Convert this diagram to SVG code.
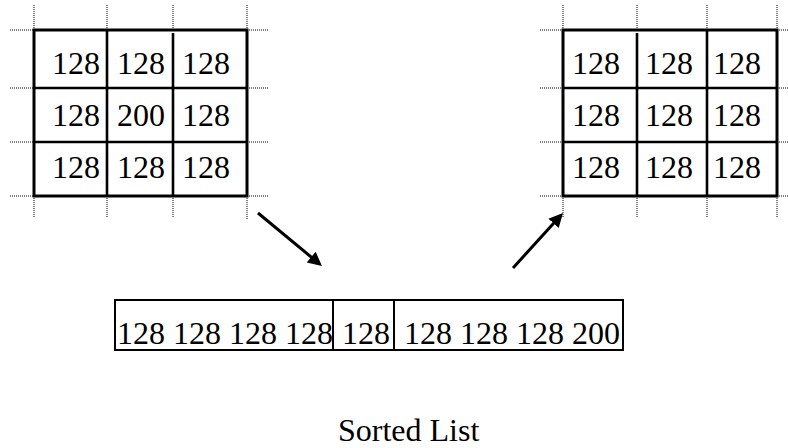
<svg xmlns="http://www.w3.org/2000/svg" width="788" height="448" viewBox="0 0 788 448">
  <style>
    .grid { fill: none; stroke: #000; stroke-width: 3; }
    .cell { stroke: #000; stroke-width: 2.6; }
    .guide { stroke: #000; stroke-width: 1; stroke-dasharray: 1 1; fill: none; }
    .strip { fill: none; stroke: #000; stroke-width: 2; }
    .arrow { stroke: #000; stroke-width: 3; fill: none; marker-end: url(#head); }
  </style>
  <defs>
    <marker id="head" viewBox="0 0 10 10" refX="4" refY="5" markerWidth="14" markerHeight="19" markerUnits="userSpaceOnUse" orient="auto">
      <path d="M0,0 L10,5 L0,10 z" fill="#000"/>
    </marker>
  </defs>

  <rect width="788" height="448" fill="#fff"/>

  <!-- 3x3 neighbourhood before sorting -->
  <g id="grid-input">
    <path class="guide" d="M34,5 V30 M107,5 V30 M173,5 V30 M247,5 V30 M34,196 V218 M107,196 V218 M173,196 V218 M247,196 V220 M10,30 H34 M10,88 H34 M10,142 H34 M10,196 H34 M247,30 H269 M247,88 H269 M247,142 H269 M247,196 H269"/>
    <path class="cell" d="M107,30 V196 M173,33 V196 M34,88 H247 M34,142 H247"/>
    <rect class="grid" x="34" y="30" width="213" height="166"/>
    <g font-family="Liberation Serif, Times New Roman, serif" font-size="32" fill="#000">
      <text x="52" y="74">128</text>
      <text x="117" y="74">128</text>
      <text x="182" y="74">128</text>
      <text x="52" y="126">128</text>
      <text x="117" y="126">200</text>
      <text x="182" y="126">128</text>
      <text x="52" y="178">128</text>
      <text x="117" y="178">128</text>
      <text x="182" y="178">128</text>
    </g>
  </g>

  <!-- 3x3 neighbourhood after median filtering -->
  <g id="grid-output">
    <path class="guide" d="M563,5 V30 M637,5 V30 M707,5 V30 M777,5 V30 M563,196 V218 M637,196 V218 M707,196 V218 M777,196 V218 M540,30 H563 M540,88 H563 M540,142 H563 M540,196 H563 M777,30 H788 M777,88 H788 M777,142 H788 M777,196 H788"/>
    <path class="cell" d="M637,33 V196 M707,30 V196 M563,88 H777 M563,142 H777"/>
    <rect class="grid" x="563" y="30" width="214" height="166"/>
    <g font-family="Liberation Serif, Times New Roman, serif" font-size="32" fill="#000">
      <text x="572" y="74">128</text>
      <text x="645" y="74">128</text>
      <text x="713" y="74">128</text>
      <text x="572" y="126">128</text>
      <text x="645" y="126">128</text>
      <text x="713" y="126">128</text>
      <text x="572" y="178">128</text>
      <text x="645" y="178">128</text>
      <text x="713" y="178">128</text>
    </g>
  </g>

  <!-- sorted values, median in the middle box -->
  <g id="sorted-list">
    <rect class="strip" x="115" y="300" width="508" height="50"/>
    <path class="strip" d="M333,300 V350 M394,300 V350"/>
    <text font-family="Liberation Serif, Times New Roman, serif" font-size="32" fill="#000" y="344"><tspan x="117">128</tspan><tspan x="173">128</tspan><tspan x="229">128</tspan><tspan x="285">128</tspan><tspan x="342">128</tspan><tspan x="404">128</tspan><tspan x="460">128</tspan><tspan x="516">128</tspan><tspan x="572">200</tspan></text>
  </g>

  <g id="caption">
    <text font-family="Liberation Serif, Times New Roman, serif" font-size="32" fill="#000" x="338" y="441">Sorted List</text>
  </g>

  <g id="connectors">
    <line class="arrow" x1="258" y1="213" x2="315.5" y2="260.6"/>
    <line class="arrow" x1="513" y1="268" x2="557.3" y2="219.2"/>
  </g>
</svg>
